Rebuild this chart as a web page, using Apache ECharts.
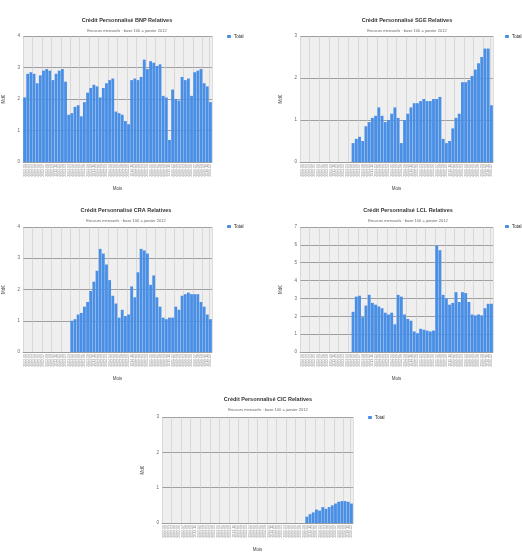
<!DOCTYPE html>
<html>
<head>
<meta charset="utf-8">
<script src="https://cdn.jsdelivr.net/npm/echarts@6/dist/echarts.min.js"></script>
<style>
html,body{margin:0;padding:0;background:#ffffff}
#chart{width:522px;height:553px}
</style>
</head>
<body>
<div id="chart"></div>
<script>
// Monthly categories shared by every panel
const months = [
  '2012-01','2012-02','2012-03','2012-04','2012-05','2012-06','2012-07','2012-08','2012-09','2012-10','2012-11','2012-12',
  '2013-01','2013-02','2013-03','2013-04','2013-05','2013-06','2013-07','2013-08','2013-09','2013-10','2013-11','2013-12',
  '2014-01','2014-02','2014-03','2014-04','2014-05','2014-06','2014-07','2014-08','2014-09','2014-10','2014-11','2014-12',
  '2015-01','2015-02','2015-03','2015-04','2015-05','2015-06','2015-07','2015-08','2015-09','2015-10','2015-11','2015-12',
  '2016-01','2016-02','2016-03','2016-04','2016-05','2016-06','2016-07','2016-08','2016-09','2016-10','2016-11','2016-12'
];

const seriesName = 'Total';
const subTitle = 'Encours mensuels · base 100 = janvier 2012';
const xAxisTitle = 'Mois';
const yAxisTitle = 'Md€';

const titles = [
  'Crédit Personnalisé BNP Relatives',
  'Crédit Personnalisé SGE Relatives',
  'Crédit Personnalisé CRA Relatives',
  'Crédit Personnalisé LCL Relatives',
  'Crédit Personnalisé CIC Relatives'
];

// y-axis ranges: [max, step]
const yRanges = [[4, 1], [3, 1], [4, 1], [7, 1], [3, 1]];

const valuesBNP = [
  2.05, 2.8, 2.85, 2.8, 2.5, 2.75, 2.9, 2.95, 2.9, 2.6, 2.8, 2.9,
  2.95, 2.55, 1.5, 1.55, 1.75, 1.8, 1.45, 1.9, 2.2, 2.35, 2.45, 2.4,
  2.05, 2.35, 2.5, 2.6, 2.65, 1.6, 1.55, 1.5, 1.3, 1.2, 2.6, 2.65,
  2.6, 2.7, 3.25, 2.95, 3.2, 3.15, 3.05, 3.1, 2.1, 2.05, 0.7, 2.3,
  2.0, 1.95, 2.7, 2.6, 2.65, 2.1, 2.85, 2.9, 2.95, 2.5, 2.4, 1.9
];

const valuesSGE = [
  null, null, null, null, null, null, null, null, null, null, null, null,
  null, null, null, null, 0.45, 0.55, 0.6, 0.5, 0.85, 0.95, 1.05, 1.1,
  1.3, 1.1, 0.95, 1.0, 1.15, 1.3, 1.05, 0.45, 1.0, 1.15, 1.3, 1.4,
  1.4, 1.45, 1.5, 1.45, 1.45, 1.5, 1.5, 1.55, 0.55, 0.45, 0.5, 0.8,
  1.05, 1.15, 1.9, 1.9, 1.95, 2.05, 2.2, 2.35, 2.5, 2.7, 2.7, 1.35
];

const valuesCRA = [
  null, null, null, null, null, null, null, null, null, null, null, null,
  null, null, null, 1.0, 1.05, 1.2, 1.25, 1.45, 1.6, 1.95, 2.25, 2.6,
  3.3, 3.15, 2.8, 2.3, 1.8, 1.55, 1.1, 1.35, 1.15, 1.2, 2.1, 1.75,
  2.55, 3.3, 3.25, 3.15, 2.15, 2.45, 1.75, 1.45, 1.1, 1.05, 1.1, 1.1,
  1.45, 1.35, 1.8, 1.85, 1.9, 1.85, 1.85, 1.85, 1.6, 1.45, 1.2, 1.05
];

const valuesLCL = [
  null, null, null, null, null, null, null, null, null, null, null, null,
  null, null, null, null, 2.25, 3.1, 3.15, 1.95, 2.6, 3.2, 2.75, 2.65,
  2.55, 2.45, 2.2, 2.1, 2.2, 1.55, 3.2, 3.1, 2.1, 1.85, 1.75, 1.15,
  1.05, 1.3, 1.25, 1.2, 1.15, 1.2, 5.95, 5.7, 3.2, 3.0, 2.65, 2.75,
  3.35, 2.8, 3.35, 3.3, 2.8, 2.1, 2.05, 2.1, 2.05, 2.45, 2.7, 2.7
];

const valuesCIC = [
  null, null, null, null, null, null, null, null, null, null, null, null,
  null, null, null, null, null, null, null, null, null, null, null, null,
  null, null, null, null, null, null, null, null, null, null, null, null,
  null, null, null, null, null, null, null, null, null, 0.18, 0.25, 0.3,
  0.38, 0.35, 0.45, 0.4, 0.45, 0.5, 0.55, 0.6, 0.62, 0.62, 0.6, 0.55
];

const seriesValues = [valuesBNP, valuesSGE, valuesCRA, valuesLCL, valuesCIC];

// Panel placement on the page
const layout = [
  { grid: { left: 23, top: 36, width: 189, height: 126 }, cx: 122, ty: 12, lg: { left: 227, top: 34 } },
  { grid: { left: 300, top: 36, width: 193, height: 126 }, cx: 402, ty: 12, lg: { left: 505, top: 34 } },
  { grid: { left: 23, top: 227, width: 189, height: 125 }, cx: 121, ty: 202, lg: { left: 227, top: 224 } },
  { grid: { left: 300, top: 227, width: 193, height: 125 }, cx: 403, ty: 202, lg: { left: 505, top: 224 } },
  { grid: { left: 162, top: 417, width: 191, height: 124 }, cx: 263, ty: 391, lg: { left: 368, top: 415 } }
];

const barColor = '#4a8fe6';
const font = 'Liberation Sans, Arial, sans-serif';

const option = {
  animation: false,
  backgroundColor: '#ffffff',
  title: layout.map((p, i) => ({
    text: titles[i],
    subtext: subTitle,
    left: p.cx,
    top: p.ty,
    textAlign: 'center',
    itemGap: 4,
    textStyle: { fontSize: 5.5, fontWeight: 'bold', color: '#333', fontFamily: font, lineHeight: 7 },
    subtextStyle: { fontSize: 4, color: '#666', fontFamily: font, lineHeight: 5 }
  })),
  legend: layout.map((p) => ({
    data: [seriesName],
    left: p.lg.left,
    top: p.lg.top,
    itemWidth: 4,
    itemHeight: 3,
    itemGap: 2,
    padding: 0,
    textStyle: { fontSize: 4.5, color: '#222', fontFamily: font, padding: [0, 0, 0, -2] }
  })),
  grid: layout.map((p) => ({
    left: p.grid.left, top: p.grid.top, width: p.grid.width, height: p.grid.height,
    show: true, backgroundColor: '#efefef', borderWidth: 0, containLabel: false
  })),
  xAxis: layout.map((p, i) => ({
    type: 'category',
    gridIndex: i,
    data: months,
    name: xAxisTitle,
    nameLocation: 'middle',
    nameGap: 24,
    nameTextStyle: { fontSize: 4.5, color: '#444', fontFamily: font },
    axisLine: { lineStyle: { color: '#999', width: 0.6 } },
    axisTick: { show: false },
    axisLabel: { rotate: 90, fontSize: 3.5, color: '#888', margin: 2, interval: 0, fontFamily: font },
    splitLine: { show: true, interval: 2, lineStyle: { color: '#c8c8c8', width: 0.6 } }
  })),
  yAxis: layout.map((p, i) => ({
    type: 'value',
    gridIndex: i,
    min: 0,
    max: yRanges[i][0],
    interval: yRanges[i][1],
    name: yAxisTitle,
    nameLocation: 'middle',
    nameRotate: 90,
    nameGap: 17,
    nameTextStyle: { fontSize: 4.5, color: '#444', fontFamily: font },
    axisLine: { show: false },
    axisTick: { show: false },
    axisLabel: { fontSize: 4.5, color: '#666', margin: 3, fontFamily: font },
    splitLine: { show: true, lineStyle: { color: '#8a8a8a', width: 0.8 } }
  })),
  series: seriesValues.map((vals, i) => ({
    name: seriesName,
    type: 'bar',
    xAxisIndex: i,
    yAxisIndex: i,
    data: vals,
    barCategoryGap: '10%',
    itemStyle: { color: barColor }
  }))
};

const chart = echarts.init(document.getElementById('chart'), null, { renderer: 'canvas' });
chart.setOption(option);
</script>
</body>
</html>
